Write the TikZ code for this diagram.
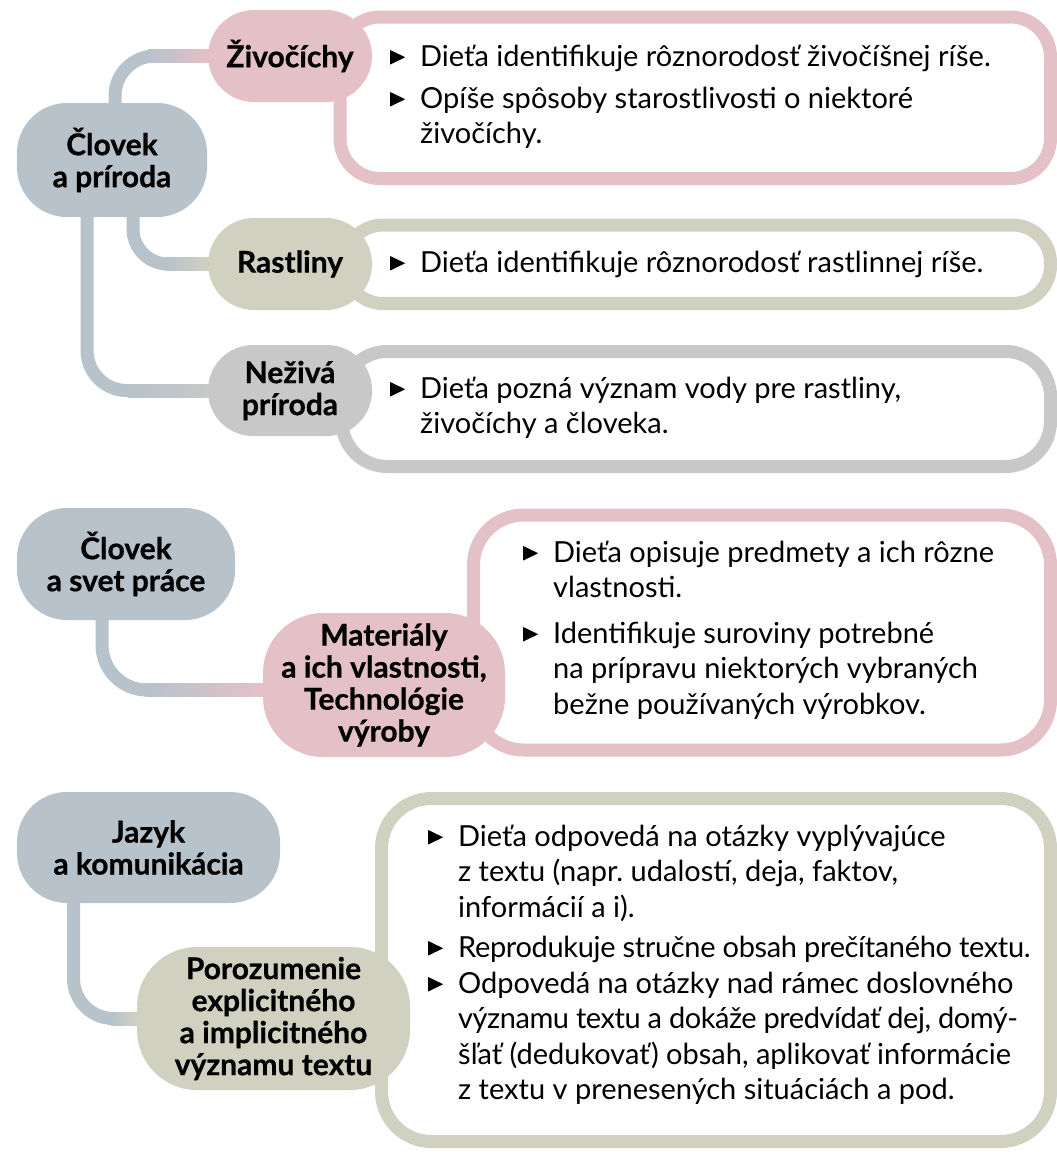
\documentclass[tikz,border=0pt]{standalone}
\usepackage{fontspec}
\setmainfont{Lato}
\newfontfamily\headfont{Lato}[BoldFeatures={FakeBold=0.7}]
\usetikzlibrary{calc,backgrounds}
\frenchspacing
\definecolor{cblue}{HTML}{B7C2CB}
\definecolor{cpink}{HTML}{E4C1C7}
\definecolor{cgreen}{HTML}{D0D1C1}
\definecolor{cgray}{HTML}{C8C8C8}
\newcommand{\bul}{\tikz[baseline=0pt]\fill (0pt,1.5pt) -- (0pt,16pt) -- (15pt,8.75pt) -- cycle;}
\newcommand{\itm}[1]{\begin{tabular}[t]{@{}l@{\hspace{15pt}}l@{}}\bul & #1\end{tabular}}
\begin{document}
\begin{tikzpicture}[x=1pt,y=-1pt,
  pill/.style={rectangle, inner sep=0pt, align=center, font=\fontsize{30}{32}\selectfont\headfont\bfseries},
  contentbox/.style={line width=13pt, fill=white, rounded corners=#1},
  conn/.style={line width=13pt, draw=cblue, rounded corners=#1},
  body/.style={anchor=base west, inner sep=0pt, font=\fontsize{29}{35.5}\selectfont\frenchspacing}]
\useasboundingbox (0,0) rectangle (1057,1152);

% pills
\node[pill, fill=cblue, minimum width=190pt, minimum height=114pt, rounded corners=50pt] (p1) at (112,160) {Človek\\a príroda};
\node[pill, fill=cpink, minimum width=164pt, minimum height=92pt, rounded corners=46pt] (ziv) at (290,56) {Živočíchy};
\node[pill, fill=cgreen, minimum width=164pt, minimum height=92pt, rounded corners=46pt] (rast) at (290,264) {Rastliny};
\node[pill, fill=cgray, minimum width=164pt, minimum height=91pt, rounded corners=45pt] (nez) at (290,390.5) {Neživá\\príroda};
\node[pill, fill=cblue, minimum width=218pt, minimum height=112pt, rounded corners=50pt] (csp) at (126,564) {Človek\\a svet práce};
\node[pill, fill=cpink, minimum width=242pt, minimum height=144pt, rounded corners=60pt] (mat) at (384,685) {Materiály\\a ich vlastnosti,\\Technológie\\výroby};
\node[pill, fill=cblue, minimum width=263pt, minimum height=111pt, rounded corners=50pt] (jaz) at (148.5,847.5) {Jazyk\\a komunikácia};
\node[pill, fill=cgreen, minimum width=273pt, minimum height=143pt, rounded corners=60pt] (por) at (273.5,1018.5) {Porozumenie\\explicitného\\a implicitného\\významu textu};

\begin{scope}[on background layer]
  % content boxes
  \draw[contentbox=40pt, draw=cpink] (340,17) rectangle (1050.5,178.5);
  \draw[contentbox=38pt, draw=cgreen] (345,225) rectangle (1050.5,303.5);
  \draw[contentbox=45pt, draw=cgray] (342,351.5) rectangle (1050.5,466.5);
  \draw[contentbox=50pt, draw=cpink] (473.5,515) rectangle (1050.5,750);
  \draw[contentbox=50pt, draw=cgreen] (381.5,798.5) rectangle (1050.5,1141.5);
  % connectors
  \draw[conn=40pt] ($(p1.north)+(3,0)$) |- (ziv.west);
  \shade[left color=cblue, right color=cpink] ($(ziv.west)+(-60,-6.5)$) rectangle ($(ziv.west)+(1,6.5)$);
  \draw[conn=35pt] ($(p1.south)+(21,0)$) |- (rast.west);
  \shade[left color=cblue, right color=cgreen] ($(rast.west)+(-42,-6.5)$) rectangle ($(rast.west)+(1,6.5)$);
  \draw[conn=40pt] ($(p1.south)+(-25,0)$) |- (nez.west);
  \shade[left color=cblue, right color=cgray] ($(nez.west)+(-80,-6.5)$) rectangle ($(nez.west)+(1,6.5)$);
  \draw[conn=45pt] ($(csp.south)+(-24,0)$) |- ($(mat.west)+(0,5)$);
  \shade[left color=cblue, right color=cpink] ($(mat.west)+(-118,-1.5)$) rectangle ($(mat.west)+(1,11.5)$);
  \draw[conn=40pt] ($(jaz.south)+(-75,0)$) |- (por.west);
  \shade[left color=cblue, right color=cgreen] ($(por.west)+(-26,-6.5)$) rectangle ($(por.west)+(1,6.5)$);
\end{scope}

% texts
\node[body] (t1a) at (390,66) {\itm{Dieťa identifikuje rôznorodosť živočíšnej ríše.}};
\node[body] (t1b) at (390,108) {\itm{Opíše spôsoby starostlivosti o niektoré\\ & živočíchy.}};
\node[body] (t2a) at (390,272) {\itm{Dieťa identifikuje rôznorodosť rastlinnej ríše.}};
\node[body] (t3a) at (390,398) {\itm{Dieťa pozná význam vody pre rastliny,\\ & živočíchy a človeka.}};
\node[body] (t4a) at (523,562) {\itm{Dieťa opisuje predmety a ich rôzne\\ & vlastnosti.}};
\node[body] (t4b) at (523,643) {\itm{Identifikuje suroviny potrebné\\ & na prípravu niektorých vybraných\\ & bežne používaných výrobkov.}};
\node[body] (t6a) at (428,846) {\itm{Dieťa odpovedá na otázky vyplývajúce\\ & z textu (napr. udalostí, deja, faktov,\\ & informácií a i).}};
\node[body] (t6b) at (428,957) {\itm{{\addfontfeature{LetterSpace=-1.2}Reprodukuje stručne obsah prečítaného textu.}}};
\node[body] (t6c) at (428,993) {\itm{Odpovedá na otázky nad rámec doslovného\\ & {\addfontfeature{LetterSpace=-1.6}významu textu a dokáže predvídať dej, domý-}\\ & šľať (dedukovať) obsah, aplikovať informácie\\ & z textu v prenesených situáciách a pod.}};
\end{tikzpicture}
\end{document}
